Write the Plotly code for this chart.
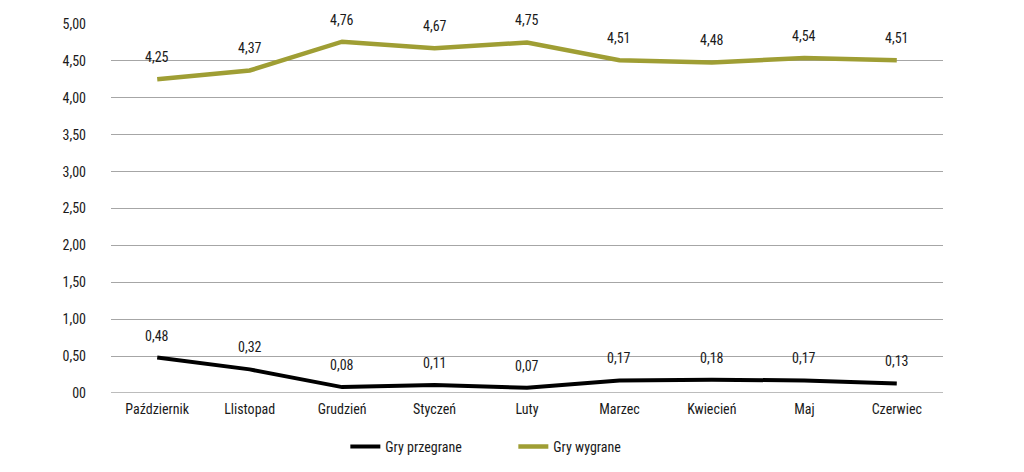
import plotly.graph_objects as go

months = ["Październik", "Llistopad", "Grudzień", "Styczeń", "Luty", "Marzec", "Kwiecień", "Maj", "Czerwiec"]
lost = [0.48, 0.32, 0.08, 0.11, 0.07, 0.17, 0.18, 0.17, 0.13]
won = [4.25, 4.37, 4.76, 4.67, 4.75, 4.51, 4.48, 4.54, 4.51]
y_ticks = [0, 0.5, 1, 1.5, 2, 2.5, 3, 3.5, 4, 4.5, 5]
y_tick_labels = ["00", "0,50", "1,00", "1,50", "2,00", "2,50", "3,00", "3,50", "4,00", "4,50", "5,00"]

def fmt(v):
    return f"{v:.2f}".replace(".", ",")

FONT = "Liberation Sans Narrow, Roboto Condensed, Roboto, sans-serif"
TXT = "#1a1a1a"

fig = go.Figure()
fig.add_trace(go.Scatter(
    x=months, y=lost, name="Gry przegrane", mode="lines",
    line=dict(color="#000000", width=4), cliponaxis=False,
))
fig.add_trace(go.Scatter(
    x=months, y=won, name="Gry wygrane", mode="lines",
    line=dict(color="#9f9e34", width=4.5), cliponaxis=False,
))

for series in (lost, won):
    for m, v in zip(months, series):
        fig.add_annotation(x=m, y=v, text=fmt(v), showarrow=False, yshift=22,
                           font=dict(family=FONT, size=14, color=TXT))

fig.update_layout(
    width=1024, height=472,
    margin=dict(l=103, r=89, t=16, b=87, autoexpand=False),
    paper_bgcolor="white", plot_bgcolor="white",
    font=dict(family=FONT, size=14, color=TXT),
    showlegend=True,
    legend=dict(orientation="h", xref="container", x=0.4935, xanchor="center",
                y=-0.146, yanchor="middle",
                entrywidth=123, entrywidthmode="pixels",
                font=dict(family=FONT, size=14, color=TXT),
                tracegroupgap=0),
    xaxis=dict(range=[-0.5, len(months) - 0.5], showgrid=False, showline=False,
               zeroline=False, ticks="", automargin=False, ticklabelstandoff=6,
               tickfont=dict(family=FONT, size=14, color=TXT)),
    yaxis=dict(range=[0, 5], tickvals=y_ticks, ticktext=y_tick_labels, automargin=False,
               showgrid=True, gridcolor="#a6a6a6", gridwidth=1.3,
               zeroline=False, showline=False, ticks="", ticklabelstandoff=24,
               tickfont=dict(family=FONT, size=14, color=TXT)),
)
fig.add_hline(y=0, line=dict(color="#a6a6a6", width=1.3), layer="below")

fig.write_html("out.html")
